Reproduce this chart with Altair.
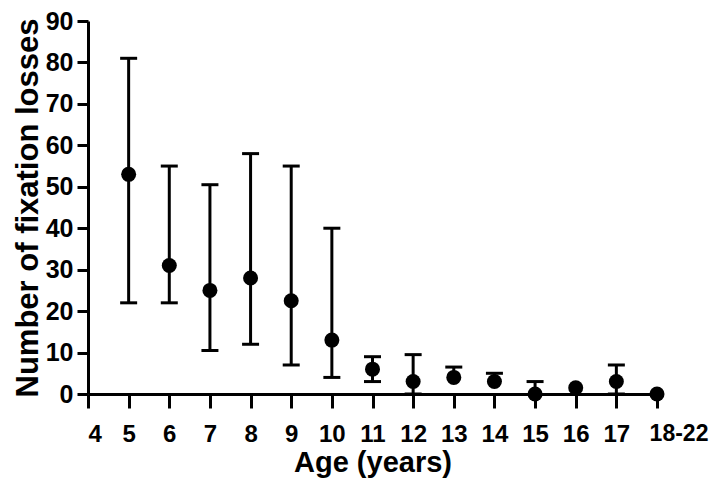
import altair as alt
import pandas as pd

age = [5, 6, 7, 8, 9, 10, 11, 12, 13, 14, 15, 16, 17, 18]
median = [53, 31, 25, 28, 22.5, 13, 6, 3, 4, 3, 0, 1.5, 3, 0]
upper = [81, 55, 50.5, 58, 55, 40, 9, 9.5, 6.5, 5, 3, 1.5, 7, 0]
lower = [22, 22, 10.5, 12, 7, 4, 3, 0, 4, 3, 0, 1.5, 0, 0]

last_label = "18-22"
last_age = 18

df = pd.DataFrame({"age": age, "median": median, "upper": upper, "lower": lower})
lab_df = pd.DataFrame({"age": [last_age], "y0": [0], "label": [last_label]})

x_ticks = list(range(4, 19))
y_ticks = list(range(0, 100, 10))

FONT = "Liberation Sans"

xscale = alt.Scale(domain=[4, 18], nice=False, zero=False)
yscale = alt.Scale(domain=[0, 90], nice=False)

x = alt.X(
    "age:Q",
    scale=xscale,
    axis=alt.Axis(
        values=x_ticks,
        title="Age (years)",
        labelExpr="datum.value == 18 ? '' : datum.label",
        labelOverlap=False,
        labelFontSize=24,
        labelFontWeight="bold",
        labelFont=FONT,
        labelColor="black",
        labelPadding=14,
        tickSize=14,
        tickWidth=3,
        tickColor="black",
        domainWidth=3,
        domainColor="black",
        titleFontSize=29,
        titleFontWeight="bold",
        titleFont=FONT,
        titleColor="black",
        titlePadding=2,
        grid=False,
    ),
)

y_axis = alt.Axis(
    values=y_ticks,
    title="Number of fixation losses",
    labelOverlap=False,
    labelFontSize=25,
    labelFontWeight="bold",
    labelFont=FONT,
    labelColor="black",
    labelPadding=4,
    tickSize=11,
    tickWidth=3,
    tickColor="black",
    domainWidth=3,
    domainColor="black",
    titleFontSize=31,
    titleFontWeight="bold",
    titleFont=FONT,
    titleColor="black",
    titlePadding=1,
    grid=False,
)

base = alt.Chart(df)

rules = base.mark_rule(color="black", strokeWidth=3).encode(
    x=x,
    y=alt.Y("lower:Q", scale=yscale, axis=y_axis),
    y2="upper:Q",
)

top_caps = base.transform_filter("datum.upper > datum.median").mark_tick(
    orient="horizontal", color="black", thickness=3, size=17, opacity=1
).encode(x=x, y=alt.Y("upper:Q", scale=yscale, axis=y_axis))

low_caps = base.transform_filter("datum.lower < datum.median").mark_tick(
    orient="horizontal", color="black", thickness=3, size=17, opacity=1
).encode(x=x, y=alt.Y("lower:Q", scale=yscale, axis=y_axis))

points = base.mark_point(filled=True, shape="circle", color="black", size=225, opacity=1).encode(
    x=x, y=alt.Y("median:Q", scale=yscale, axis=y_axis)
)

last_text = alt.Chart(lab_df).mark_text(
    font=FONT, fontSize=23, fontWeight="bold", color="black",
    align="center", baseline="top", dx=22, dy=29,
).encode(
    x=alt.X("age:Q", scale=xscale),
    y=alt.Y("y0:Q", scale=yscale),
    text="label:N",
)

chart = (
    alt.layer(rules, top_caps, low_caps, points, last_text)
    .properties(
        width=569,
        height=373,
        autosize=alt.AutoSizeParams(type="none"),
        padding={"left": 80, "top": 13, "right": 55, "bottom": 86},
        background="white",
    )
    .configure_view(stroke=None)
)

chart.save("out.html", embed_options={"renderer": "svg", "actions": False})
